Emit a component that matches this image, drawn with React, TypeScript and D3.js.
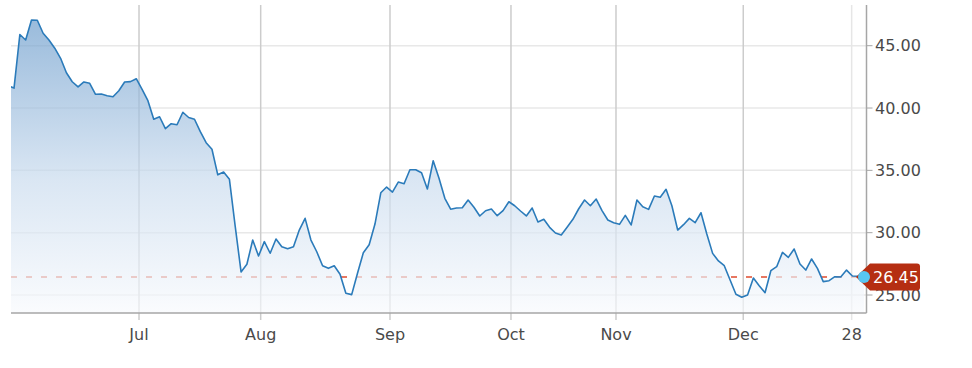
import React from "react";
import * as d3 from "d3";

// Daily closing prices
const prices: number[] = [
  41.8, 41.6, 45.9, 45.46, 47.06, 47.04, 46.0, 45.46, 44.8, 43.99,
  42.83, 42.11, 41.69, 42.09, 41.98, 41.1, 41.12, 40.99, 40.9, 41.39,
  42.09, 42.12, 42.35, 41.5, 40.59, 39.1, 39.3, 38.34, 38.74, 38.66,
  39.66, 39.24, 39.1, 38.1, 37.22, 36.69, 34.64, 34.87, 34.28, 30.48,
  26.85, 27.47, 29.41, 28.13, 29.28, 28.35, 29.49, 28.87, 28.71, 28.87,
  30.21, 31.15, 29.41, 28.47, 27.35, 27.14, 27.35, 26.66, 25.14, 25.03,
  26.74, 28.39, 29.03, 30.69, 33.2, 33.66, 33.26, 34.06, 33.93, 35.05,
  35.05, 34.81, 33.5, 35.77, 34.36, 32.76, 31.88, 31.98, 32.0, 32.62,
  32.04, 31.34, 31.76, 31.9, 31.36, 31.77, 32.48, 32.16, 31.74, 31.34,
  31.98, 30.86, 31.07, 30.43, 29.97, 29.81, 30.43, 31.07, 31.92, 32.62,
  32.16, 32.7, 31.77, 31.02, 30.8, 30.67, 31.39, 30.62, 32.62, 32.08,
  31.87, 32.94, 32.84, 33.48, 32.16, 30.21, 30.64, 31.15, 30.8, 31.6,
  29.89, 28.34, 27.73, 27.35, 26.2, 25.06, 24.82, 25.0, 26.36, 25.74,
  25.18, 26.95, 27.27, 28.42, 28.02, 28.69, 27.49, 27.0, 27.89, 27.14,
  26.07, 26.15, 26.47, 26.44, 27.0, 26.52, 26.5, 26.45,
];

// X axis ticks: labels and their (fractional) positions in trading-day index
const xTickLabels: string[] = ["Jul", "Aug", "Sep", "Oct", "Nov", "Dec", "28"];
const xTickIndex: number[] = [22.47, 43.37, 65.58, 86.36, 104.4, 126.26, 144.88];
const xTickMajor: boolean[] = [true, true, true, true, true, true, false];

// Y axis ticks
const yTicks: number[] = [25, 30, 35, 40, 45];

const lastPrice = prices[prices.length - 1];

const W = 972;
const H = 368;
const plotLeft = 11;
const plotRight = 866.5;
const plotTop = 5;
const plotBottom = 313;
const FONT = "'DejaVu Sans', Verdana, sans-serif";

export default function App() {
  const x = d3
    .scaleLinear()
    .domain([0, prices.length - 1])
    .range([8.2, 864]);
  const y = d3.scaleLinear().domain([25, 45]).range([295, 45.7]);

  const area = d3
    .area<number>()
    .x((_, i) => x(i))
    .y0(plotBottom)
    .y1((d) => y(d));
  const line = d3
    .line<number>()
    .x((_, i) => x(i))
    .y((d) => y(d));

  const lx = x(prices.length - 1);
  const ly = y(lastPrice);
  const boxL = lx + 6;
  const boxR = boxL + 50;
  const boxT = ly - 13.5;
  const boxB = ly + 13.5;
  const tipX = lx - 8;
  const r = 3;
  const labelPath = [
    `M${tipX},${ly}`,
    `L${boxL},${boxT}`,
    `L${boxR - r},${boxT}`,
    `Q${boxR},${boxT} ${boxR},${boxT + r}`,
    `L${boxR},${boxB - r}`,
    `Q${boxR},${boxB} ${boxR - r},${boxB}`,
    `L${boxL},${boxB}`,
    "Z",
  ].join(" ");

  return (
    <svg
      width={W}
      height={H}
      style={{ position: "absolute", left: 0, top: 0, background: "#fff" }}
    >
      <defs>
        <clipPath id="plotClip">
          <rect
            x={plotLeft}
            y={plotTop}
            width={plotRight - plotLeft}
            height={plotBottom - plotTop}
          />
        </clipPath>
        <linearGradient id="areaGrad" x1="0" y1="0" x2="0" y2="1">
          <stop offset="0" stopColor="#6a9bcb" />
          <stop offset="0.55" stopColor="#c9dbee" />
          <stop offset="1" stopColor="#f8fafd" />
        </linearGradient>
      </defs>

      {/* horizontal grid */}
      {yTicks.map((t) => (
        <line
          key={"hg" + t}
          x1={plotLeft}
          x2={plotRight}
          y1={y(t)}
          y2={y(t)}
          stroke="#e8e8e8"
          strokeWidth={1.5}
        />
      ))}
      {/* vertical grid + x ticks */}
      {xTickIndex.map((ti, k) => (
        <line
          key={"vg" + k}
          x1={x(ti)}
          x2={x(ti)}
          y1={plotTop}
          y2={plotBottom + 7}
          stroke={xTickMajor[k] ? "#cccccc" : "#e6e6e6"}
          strokeWidth={1.5}
        />
      ))}

      {/* last price reference line */}
      <line
        x1={plotLeft}
        x2={plotRight}
        y1={ly}
        y2={ly}
        stroke="#e04b2e"
        strokeWidth={1.5}
        strokeDasharray="6,9"
      />

      <g clipPath="url(#plotClip)">
        <path d={area(prices) || ""} fill="url(#areaGrad)" fillOpacity={0.68} />
        <path
          d={line(prices) || ""}
          fill="none"
          stroke="#2b7bba"
          strokeWidth={1.6}
          strokeLinejoin="round"
        />
      </g>

      {/* axes lines */}
      <line
        x1={plotLeft}
        x2={plotRight}
        y1={plotBottom}
        y2={plotBottom}
        stroke="#a6a6a6"
        strokeWidth={1.5}
      />
      <line
        x1={plotRight}
        x2={plotRight}
        y1={plotTop}
        y2={plotBottom}
        stroke="#a6a6a6"
        strokeWidth={1.5}
      />

      {/* y ticks and labels */}
      {yTicks.map((t) => (
        <g key={"yt" + t}>
          <line
            x1={plotRight}
            x2={plotRight + 6}
            y1={y(t)}
            y2={y(t)}
            stroke="#a6a6a6"
            strokeWidth={1}
          />
          <text
            x={plotRight + 8.5}
            y={y(t)}
            dy="0.36em"
            fontFamily={FONT}
            fontSize={16}
            fill="#4a4a4a"
          >
            {t.toFixed(2)}
          </text>
        </g>
      ))}

      {/* x labels */}
      {xTickIndex.map((ti, k) => (
        <text
          key={"xl" + k}
          x={x(ti)}
          y={340}
          textAnchor="middle"
          fontFamily={FONT}
          fontSize={16}
          fill="#4a4a4a"
        >
          {xTickLabels[k]}
        </text>
      ))}

      {/* last price label */}
      <path d={labelPath} fill="#b52e12" />
      <text
        x={(boxL + boxR) / 2 + 1}
        y={ly}
        dy="0.36em"
        textAnchor="middle"
        fontFamily={FONT}
        fontSize={16}
        fill="#fff"
      >
        {lastPrice.toFixed(2)}
      </text>
      <circle cx={lx} cy={ly} r={6} fill="#58c6f2" />
    </svg>
  );
}
